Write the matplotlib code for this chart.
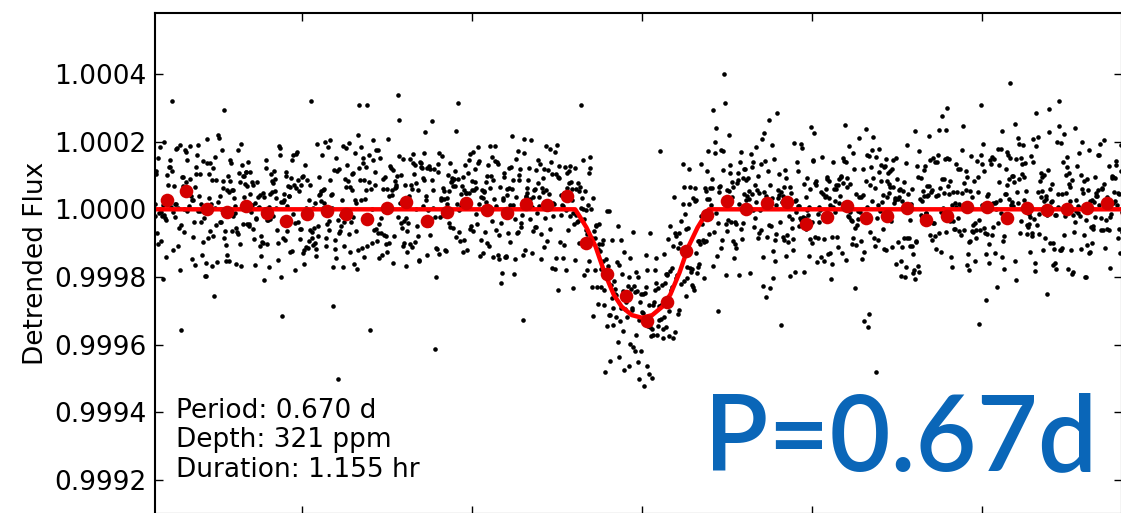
import numpy as np
import matplotlib
matplotlib.use('Agg')
import matplotlib.pyplot as plt

# fitted transit parameters
period_d = 0.670
depth_ppm = 321
duration_hr = 1.155

# binned flux, hours from mid-transit / ppm from unity
bin_hr = [-4.19, -4.02, -3.84, -3.66, -3.49, -3.31, -3.14, -2.96, -2.78, -2.61,
          -2.43, -2.25, -2.08, -1.90, -1.72, -1.55, -1.37, -1.19, -1.02, -0.84,
          -0.66, -0.49, -0.31, -0.14, 0.04, 0.22, 0.39, 0.57, 0.75, 0.92,
          1.10, 1.28, 1.45, 1.63, 1.81, 1.98, 2.16, 2.34, 2.51, 2.69,
          2.87, 3.04, 3.22, 3.40, 3.57, 3.75, 3.93, 4.10, 4.28]
bin_ppm = [28, 55, 1, -7, 10, -12, -35, -15, -4, -14,
           -30, 3, 21, -35, -7, 18, -2, -10, 15, 13,
           40, -100, -192, -256, -331, -275, -122, -17, 25, 0,
           18, 22, -44, -22, 10, -27, -20, 5, -32, -19,
           8, 8, -25, 3, -2, 0, 5, 18, -10]

# transit model
model_hr = [-4.30, -0.59, -0.55, -0.49, -0.41, -0.33, -0.25, -0.18, -0.09, 0.0,
            0.09, 0.18, 0.25, 0.33, 0.41, 0.49, 0.55, 0.59, 4.25]
model_ppm = [0, 0, -21, -54, -110, -188, -252, -288, -313, -321,
             -313, -288, -252, -188, -110, -54, -21, 0, 0]

# unbinned points after detrending, ppm about the model
resid_ppm = [
    34, -82, 127, -15, 61, -143, 8, 95, -47, 172, -109, 23, -66, 151, -3, -198, 77, 41, -121, 12,
    -58, 104, -29, 188, -91, 5, 66, -134, 39, -17, 113, -72, 0, 215, -45, 86, -160, 27, -101, 52,
    141, -36, 264, -88, 19, -125, 73, -9, 98, -183, 44, -57, 130, 11, -76, -257, -22, 167, -114, 63,
    -12, 92, -148, 37, 119, -68, 3, 205, -99, 58, -31, 146, -179, 81, 14, -53, 108, -7, 69, -137,
    46, -115, 24, 174, -62, 131, -88, 9, -200, 85, 31, -43, 117, -155, 70, 2, 193, -27, -95, 56,
    -74, 160, -19, 88, -141, 47, 229, -60, 15, 123, -102, 38, -8, 178, -129, 67, -49, 101, 21, -166,
    97, -33, 246, 60, -110, 18, 139, -84, 52, 339, -4, -152, 76, 284, -41, 118, -208, 29, -71, 145,
    13, -93, 186, 277, -56, 124, -414, 43, 236, -17, 373, -128, 80, 6, -189, 149, -65, 107, -34, 59,
    336, -77, 32, -348, 168, 91, -13, -233, 54, 139, -106, 20, -60, 195, -150, 72, 0, -88, 121, 45,
    -26, -343, 109, 63, -172, 28, 152, -47, 86, -119, 9, 210, -73, 35, -21, 164, -140, 71, 117, -58,
    182, -11, -300, 94, 39, -96, 126, -62, 17, 225, -133, 48, -5, 87, -184, 142, 61, -38, 104, -79,
    25, 308, -121, 50, -30, 136, -90, 11, 170, -57, 83, -162, 42, -14, 112, -70, 199, -101, 3, 66,
    -45, 140, -9, -218, 73, 22, -138, 96, -62, 158, 31, -84, 124, -25, 6, 185, -115, 55, -167, 90,
    118, -40, 67, 308, -105, 14, 89, -176, 44, -23, 131, -63, 204, 8, -91, 51, -145, 100, 19, -36,
    -82, 57, 176, -18, 35, -127, 92, -52, 147, 4, -199, 75, 28, -110, 161, 39, -71, 246, -6, 113,
    70, -147, 16, 98, -41, 190, -85, 53, -12, 122, -229, 61, -33, 143, 88, -96, 7, -173, 134, 27,
    -20, 106, -68, 39, 220, -158, 12, 79, -117, -482, 166, 46, -48, 94, -1, 133, -86, 58, -203, 71,
    153, -29, 84, -136, 26, 62, -78, 197, -54, 118, 10, -166, 90, 37, -101, 174, -15, 49, -60, 128,
    -93, 42, 135, -7, -187, 102, 64, -39, 157, -112, 20, 81, -69, 243, 3, -141, 115, 31, -50, 96,
    59, -120, 18, 176, -87, 33, -28, 138, -160, 71, 95, -44, 11, 209, -78, 52, -131, 88, -3, 150,
    -35, 314, 73, -97, 126, 9, -59, 186, -145, 44, -21, 100, -180, 67, 29, -74, 151, -109, 56, 13,
    300, -64, 92, -25, 139, -200, 48, 77, -116, 21, 169, -83, 36, -2, -238, 114, 61, -41, 192, -91,
    15, 125, -73, 54, -156, 83, 6, -328, 103, -37, 63, 218, -128, 40, -64, 144, -9, 90, -185, 47,
    -52, 177, 34, -118, 67, -14, 232, -93, 55, 120, -42, 8, -164, 86, 24, -71, 160, -104, 39, 112,
    74, -28, -149, 98, 43, -80, 137, -6, 191, -123, 58, 20, -57, 105, -196, 81, 31, -38, 148, -88,
    7, 135, -67, 60, -171, 89, 26, -112, 166, -45, 77, -17, 216, -134, 50, 0, -83, 121, 37, -60,
    284, -102, 45, -16, 153, -69, 94, -190, 30, 70, -36, 131, -143, 11, 178, -79, 55, -11, 98, -225,
    -40, 82, 19, -127, 108, 46, -62, 201, -95, 24, 145, -50, 65, -160, 88, 12, -108, 161, -23, 67,
    129, -31, 71, -87, 6, 186, -142, 52, -18, 95, -340, 33, 117, -66, 180, -4, 58, -119, 85, 27,
    -71, 149, -13, 38, -178, 103, 61, -48, 132, -98, 15, 250, -76, 44, -22, 171, -131, 79, 7, -53,
    314, 308, -107, 66, 21, -147, 90, -34, 175, 48, -86, 126, -9, 62, -201, 110, 33, -61, 154, -118,
    40, -75, 194, -20, 87, -135, 53, 8, -95, 141, 23, -55, 108, -168, 72, 215, -40, 96, -12, 57,
    -84, 118, 46, -311, 79, -26, 162, -109, 35, 5, -64, 189, -150, 68, 27, -91, 136, -3, 84, -46,
    121, -58, 17, 165, -122, 57, -32, 99, 230, -76, 43, -180, 88, 14, -47, 147, -104, 62, 30, -137,
    236, -15, 80, -93, 137, 29, -164, 52, -7, 114, -68, 183, 39, -124, 75, -29, 155, -85, 11, 98,
    -49, 127, 60, -118, 21, 171, -80, 45, -196, 94, 8, -57, 140, -33, 66, -148, 112, 24, -92, 59,
    85, -139, 32, 198, -66, 13, 105, -174, 50, -21, 157, -96, 74, 3, -233, 129, -44, 91, 38, -115,
    -30, 146, -104, 62, 20, -186, 99, 41, -73, 173, -12, 56, -150, 118, 27, -61, 204, -127, 80, 9,
    168, -54, 88, -25, -258, 110, 36, -94, 142, 5, -120, 70, 23, -177, 96, -39, 125, 47, -80, 16,
    -97, 64, 187, -43, 29, -132, 81, -11, 220, -69, 44, 132, -108, 10, -250, 75, 160, -35, 58, -85,
    33, -163, 116, 52, -27, 90, -286, 13, 145, -58, 71, -19, 109, -140, 37, 182, -74, 2, -121, 86,
    141, -3, -90, 174, 48, -228, 79, -37, 120, 25, -153, 62, 190, -82, 17, -48, 133, -106, 69, 6,
    -59, 110, 42, -135, 199, -21, 68, -98, 15, 155, -184, 38, -63, 96, 237, -129, 53, -10, 82, -40,
    73, -116, 151, 4, -70, 128, -38, 260, -162, 46, 85, -26, 170, -99, 31, -205, 114, 60, -14, 101,
    -24, 196, 57, -154, 93, 12, -81, 143, -47, 222, 40, -110, 65, 0, -172, 107, 28, -66, 152, -92,
    200, -42, 84, 19, -137, 69, 161, -56, 34, -103, 126, -19, 95, 55, -189, 78, -31, 138, 10, -71,
    48, -125, 14, 178, -61, 103, 39, -95, 150, -22, 67, 194, -141, 26, -48, 118, -167, 83, 5, 129,
    -86, 57, 295, -30, 111, -151, 42, 76, -115, 18, 169, -64, 95, -8, 223, -127, 61, 134, -39, 88,
    16, -99, 147, 63, -44, 183, -131, 29, 97, -70, 4, 160, -186, 51, 120, -23, 82, -105, 37, 206,
    -60, 139, 25, -357, 86, -17, 115, -93, 58, 176, -146, 33, -1, 129, -78, 44, 210, -120, 69, -34,
    92, -22, 171, -109, 40, 8, -196, 124, 61, -53, 145, 19, -88, 102, -159, 70, 27, -41, 188, -130,
    -13, 78, -65, 156, -142, 50, 94, 232, -84, 23, -37, 133, 66, -178, 9, 113, -59, 85, -217, 45,
    154, -90, 36, 107, -26, 192, -119, 58, -8, 81, -163, 122, 43, -72, 15, 166, -47, 99, 30, -139,
    -357, 66, 118, -44, 13, 174, -99, 52, -152, 87, 28, 207, -60, 35, -125, 143, 6, -84, 110, 57,
    41, -134, 89, 22, -58, 149, -11, 263, -105, 71, 34, -172, 116, 2, -66, 91, -194, 48, 137, -27,
    295, -76, 55, 12, -141, 125, 80, -36, 180, -97, 20, 65, -153, 103, -18, 227, -62, 38, -112, 74,
    -43, 163, -12, 97, -186, 46, 7, 140, -74, 119, -30, 56, 199, -123, 84, -51, 24, -209, 150, 31,
    106, -57, 211, 35, -101, 69, -24, 160, -170, 50, 92, -86, 13, 136, -41, 245, -115, 62, -5, 87,
    -77, 25, 132, -145, 58, -315, 104, 17, -62, 189, -18, 73, 148, -92, 40, -154, 114, 2, 81, -35,
    44, -113, 400, 71, -40, 158, 298, -128, 20, 95, -71, 177, -19, 63, -168, 122, 35, -53, 209, -97,
    131, -9, 84, -180, 29, 111, -47, 56, 196, -138, 10, -89, 145, 67, -32, 228, -118, 49, -15, 93,
    -24, 173, -121, 40, 96, -64, 16, 137, -207, 78, 33, -37, 119, -94, 214, 3, -152, 86, 54, -70,
    320, 66, -99, 147, 20, -45, 185, -130, 72, 11, -163, 102, 41, -14, 128, -76, 59, 253, -106, 36,
    -58, 108, 47, -153, 90, -5, 167, -84, 28, 138, -43, 77, -181, 14, 95, -27, 152, -119, 62, 200,
    83, -146, 23, 126, -36, 60, -234, 99, 153, -68, 8, 179, -100, 45, -18, 113, 71, -137, 31, -50,
    191, -28, 295, -80, 54, 135, -115, 37, -60, 89, -192, 118, 10, -41, 163, 69, -94, 27, 147, -12,
    -111, 57, 96, -31, 175, -65, 19, 241, -139, 48, 82, -19, 124, -170, 39, 6, -86, 158, 93, -44,
    29, -73, 141, 63, -502, 104, -46, 186, -16, 74, -121, 46, 212, -97, 14, 130, -58, 88, -164, 52,
    -37, 119, -9, -206, 81, 35, 157, -108, 59, -2, 134, -77, 23, 191, -144, 71, 42, -55, 101, -125,
    167, -84, 50, 99, -158, 16, 124, -33, 70, 224, -99, 37, -19, 146, -61, 85, 4, -183, 114, 57,
    -52, 91, 182, -127, 33, -76, 106, 47, -201, 139, 12, 68, -40, 117, -112, 264, 26, -67, 84, 7,
    122, -292, 64, 15, 150, -95, 38, -26, 176, -63, 93, -146, 51, 2, 131, -84, 208, -41, 72, -118,
    -16, 140, -68, 81, 221, -133, 25, 98, -49, 160, -176, 43, 115, -29, 69, 9, -102, 184, 56, -81,
    90, 320, -38, 130, -114, 47, 197, -70, 22, 104, -141, 66, -7, 155, 36, -194, 86, -54, 120, 14,
    -99, 59, 165, -22, 83, -169, 30, 142, -63, 11, 247, -110, 75, 40, -82, 129, -25, 95, -150, 53,
    141, -44, 19, -330, 108, 62, -86, 183, -17, 73, 126, -130, 38, 5, -58, 167, 89, -104, 29, 231,
    -31, 100, -147, 48, 26, 193, -73, 116, 57, -118, 8, 151, -39, 82, -203, 64, 14, 137, -90, 45,
    67, 467, -106, 32, 146, -58, 91, 178, -24, -160, 54, 121, 3, -79, 209, 40, -134, 98, -11, 160,
    320, -75, 44, -268, 110, 18, -47, 135, 72, -96, 187, -16, 59, -141, 93, 28, -66, 240, -120, 76,
    -8, 128, -55, 87, 37, -186, 153, 60, -34, 102, -93, 17, 171, -127, 49, 83, -21, 144, -63, 30,
]

plt.rcParams['font.family'] = 'DejaVu Sans'

resid_all = np.array(resid_ppm, dtype=np.int64)
n = len(resid_all)
idx = np.arange(n, dtype=np.int64)
t = np.linspace(model_hr[0], model_hr[-1], n)
# after folding on the period, neighbouring points come from different orbits
fold_key = (idx * idx * 7919 + idx * 104729 + (resid_all + 600) * 1013) % 1000003
resid = resid_all[np.argsort(fold_key, kind='stable')]
flux = 1 + (np.interp(t, model_hr, model_ppm) + resid) * 1e-6
model_flux = 1 + np.array(model_ppm) * 1e-6
bin_flux = 1 + np.array(bin_ppm) * 1e-6

fig = plt.figure(figsize=(11.21, 5.13), dpi=100)
ax = fig.add_axes([155 / 1121, -1 / 513, 967 / 1121, 501.3 / 513])

ax.plot(t, flux, 'o', ms=3.3, color='k', mec='none', zorder=1)
ax.plot(model_hr, model_flux, '-', color='#ff0000', lw=3.2, zorder=2)
ax.plot(bin_hr, bin_flux, 'o', ms=9.8, color='#d40000', mec='none', zorder=3)

ax.set_xlim(-4.297, 4.235)
ax.set_ylim(0.9990985, 1.0005817)
ax.set_xticks([-3, -1.5, 0, 1.5, 3])
ax.set_yticks([0.9992, 0.9994, 0.9996, 0.9998, 1.0000, 1.0002, 1.0004])
ax.yaxis.set_major_formatter(plt.FormatStrFormatter('%.4f'))
ax.tick_params(direction='in', length=6, width=1, top=True, right=True,
               labelbottom=False, labelsize=19, pad=6)
for sp in ax.spines.values():
    sp.set_linewidth(1.5)
ax.set_ylabel('Detrended Flux', fontsize=19, labelpad=4)

fig.text(176 / 1121, 1 - 398 / 513,
         'Period: %.3f d\nDepth: %d ppm\nDuration: %.3f hr' % (period_d, depth_ppm, duration_hr),
         fontsize=19, va='top', ha='left', linespacing=1.17)
fig.text(704 / 1121, 1 - 470 / 513, 'P=%.2fd' % period_d, fontsize=76,
         family='Lato', fontweight='semibold', color='#0a66b8', va='baseline', ha='left')

fig.savefig('out.png', dpi=100)
